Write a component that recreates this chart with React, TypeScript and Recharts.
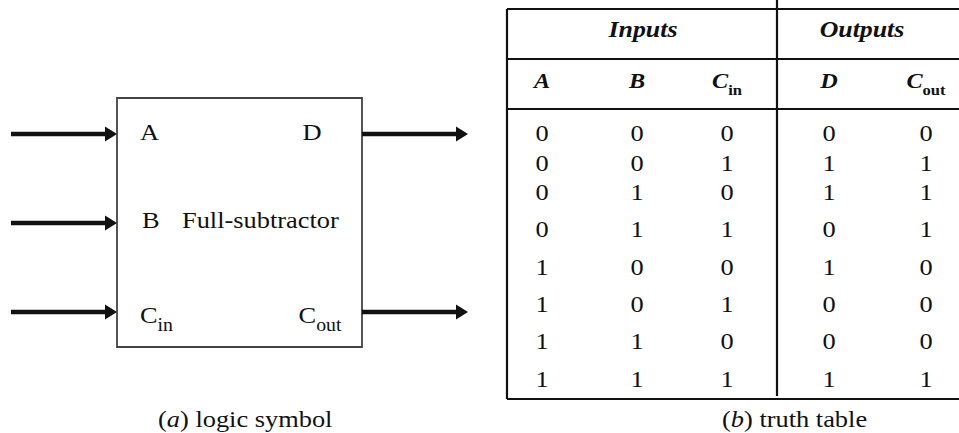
import React from "react";
import {
  ReferenceArea,
  ReferenceDot,
  ReferenceLine,
  Scatter,
  ScatterChart,
  XAxis,
  YAxis,
} from "recharts";

// truth table, one value per row
const inputA = [0, 0, 0, 0, 1, 1, 1, 1];
const inputB = [0, 0, 1, 1, 0, 0, 1, 1];
const inputCin = [0, 1, 0, 1, 0, 1, 0, 1];
const outputD = [0, 1, 1, 0, 1, 0, 0, 1];
const outputCout = [0, 1, 1, 1, 0, 0, 0, 1];

const columnHeaders = ["A", "B", "C_in", "D", "C_out"];
const groupHeaders = ["Inputs", "Outputs"];

// logic symbol
const inputPins = ["A", "B", "C_in"];
const outputPins = ["D", "C_out"];
const blockName = "Full-subtractor";

const captionLetters = ["a", "b"];
const captionTexts = ["logic symbol", "truth table"];

// layout (pixels, the axes map 1:1 onto the page)
const WIDTH = 959;
const HEIGHT = 433;
const FONT = '"Liberation Serif", "Times New Roman", serif';
const STRETCH = 1.1;
const INK = "#111";

const colX = [542, 637, 727, 829, 926];
const rowY = [141, 171, 200, 237, 275, 312, 349, 387];
const groupX = [643, 862];
const groupY = 37;
const headY = 88;
const table = { left: 507, right: 959, top: 9, bottom: 399, groupLine: 59, headLine: 109, divider: 777 };

const box = { x1: 117, x2: 362, y1: 98, y2: 347 };
const inPinY = [134, 223, 312];
const outPinY = [134, 312];
const inLabelX = [140, 142, 140];
const inLabelY = [140, 228, 323];
const outLabelX = [312, 320];
const outLabelY = [140, 323];
const nameX = 182;
const nameY = 228;
const inStart = 11;
const outEnd = 468;
const HEAD = 12;
const captionX = [158, 722];
const captionY = 427;

interface TxtProps {
  x: number;
  y: number;
  text: string;
  size: number;
  subSize?: number;
  subDy?: number;
  anchor?: "start" | "middle" | "end";
  weight?: string;
  italic?: boolean;
}

function Txt({ x, y, text, size, subSize = 16, subDy = 8, anchor = "middle", weight = "normal", italic = false }: TxtProps) {
  const [main, sub] = text.split("_");
  return (
    <text
      transform={`translate(${x},${y}) scale(${STRETCH},1)`}
      textAnchor={anchor}
      fontFamily={FONT}
      fontSize={size}
      fontWeight={weight}
      fontStyle={italic ? "italic" : "normal"}
      fill={INK}
    >
      {main}
      {sub && (
        <tspan fontSize={subSize} dy={subDy} fontStyle="normal">
          {sub}
        </tspan>
      )}
    </text>
  );
}

function Arrowhead(props: any) {
  const { cx, cy } = props;
  return <polygon points={`${cx},${cy} ${cx - HEAD},${cy - 7.5} ${cx - HEAD},${cy + 7.5}`} fill={INK} />;
}

const tableColumns = [inputA, inputB, inputCin, outputD, outputCout];

export default function App() {
  const cells = tableColumns.flatMap((col, ci) =>
    col.map((v, ri) => ({ x: colX[ci], y: rowY[ri], label: String(v) }))
  );
  const headers = columnHeaders.map((h, i) => ({ x: colX[i], y: headY, label: h }));
  const groups = groupHeaders.map((g, i) => ({ x: groupX[i], y: groupY, label: g }));
  const pinLabels = [
    ...inputPins.map((p, i) => ({ x: inLabelX[i], y: inLabelY[i], label: p, anchor: "start" })),
    ...outputPins.map((p, i) => ({ x: outLabelX[i], y: outLabelY[i], label: p, anchor: "middle" })),
    { x: nameX, y: nameY, label: blockName, anchor: "start" },
  ];
  const captions = captionLetters.map((c, i) => ({ x: captionX[i], y: captionY, letter: c, label: captionTexts[i] }));

  return (
    <div style={{ position: "absolute", left: 0, top: 0, width: WIDTH, height: HEIGHT, background: "#fff" }}>
      <ScatterChart width={WIDTH} height={HEIGHT} margin={{ top: 0, right: 0, bottom: 0, left: 0 }}>
        <XAxis type="number" dataKey="x" domain={[0, WIDTH]} allowDataOverflow hide />
        <YAxis type="number" dataKey="y" domain={[0, HEIGHT]} allowDataOverflow reversed hide />

        {/* block */}
        <ReferenceArea x1={box.x1} x2={box.x2} y1={box.y1} y2={box.y2} fill="none" stroke="#444" strokeWidth={1.8} ifOverflow="visible" />
        {inPinY.map((y) => (
          <ReferenceLine key={`in${y}`} segment={[{ x: inStart, y }, { x: box.x1 - HEAD + 1, y }]} stroke={INK} strokeWidth={4.5} />
        ))}
        {inPinY.map((y) => (
          <ReferenceDot key={`ih${y}`} x={box.x1} y={y} shape={Arrowhead} />
        ))}
        {outPinY.map((y) => (
          <ReferenceLine key={`out${y}`} segment={[{ x: box.x2, y }, { x: outEnd - HEAD + 1, y }]} stroke={INK} strokeWidth={4.5} />
        ))}
        {outPinY.map((y) => (
          <ReferenceDot key={`oh${y}`} x={outEnd} y={y} shape={Arrowhead} />
        ))}

        {/* table rules */}
        {[table.top, table.groupLine, table.headLine, table.bottom].map((y) => (
          <ReferenceLine key={`h${y}`} segment={[{ x: table.left, y }, { x: table.right, y }]} stroke={INK} strokeWidth={2.2} />
        ))}
        <ReferenceLine segment={[{ x: table.left, y: table.top }, { x: table.left, y: table.bottom }]} stroke={INK} strokeWidth={2.2} />
        <ReferenceLine segment={[{ x: table.divider, y: 0 }, { x: table.divider, y: table.bottom - 3 }]} stroke={INK} strokeWidth={2.2} />

        <Scatter
          data={pinLabels}
          isAnimationActive={false}
          shape={(p: any) => <Txt x={p.cx} y={p.cy} text={p.payload.label} size={24} subSize={18} subDy={8} anchor={p.payload.anchor} />}
        />
        <Scatter
          data={groups}
          isAnimationActive={false}
          shape={(p: any) => <Txt x={p.cx} y={p.cy} text={p.payload.label} size={23.5} weight="bold" italic />}
        />
        <Scatter
          data={headers}
          isAnimationActive={false}
          shape={(p: any) => <Txt x={p.cx} y={p.cy} text={p.payload.label} size={22} subSize={15} subDy={7} weight="bold" italic />}
        />
        <Scatter
          data={cells}
          isAnimationActive={false}
          shape={(p: any) => <Txt x={p.cx} y={p.cy} text={p.payload.label} size={24} />}
        />
        <Scatter
          data={captions}
          isAnimationActive={false}
          shape={(p: any) => (
            <text transform={`translate(${p.cx},${p.cy}) scale(${STRETCH},1)`} fontFamily={FONT} fontSize={24} fill={INK}>
              (<tspan fontStyle="italic">{p.payload.letter}</tspan>) {p.payload.label}
            </text>
          )}
        />
      </ScatterChart>
    </div>
  );
}
